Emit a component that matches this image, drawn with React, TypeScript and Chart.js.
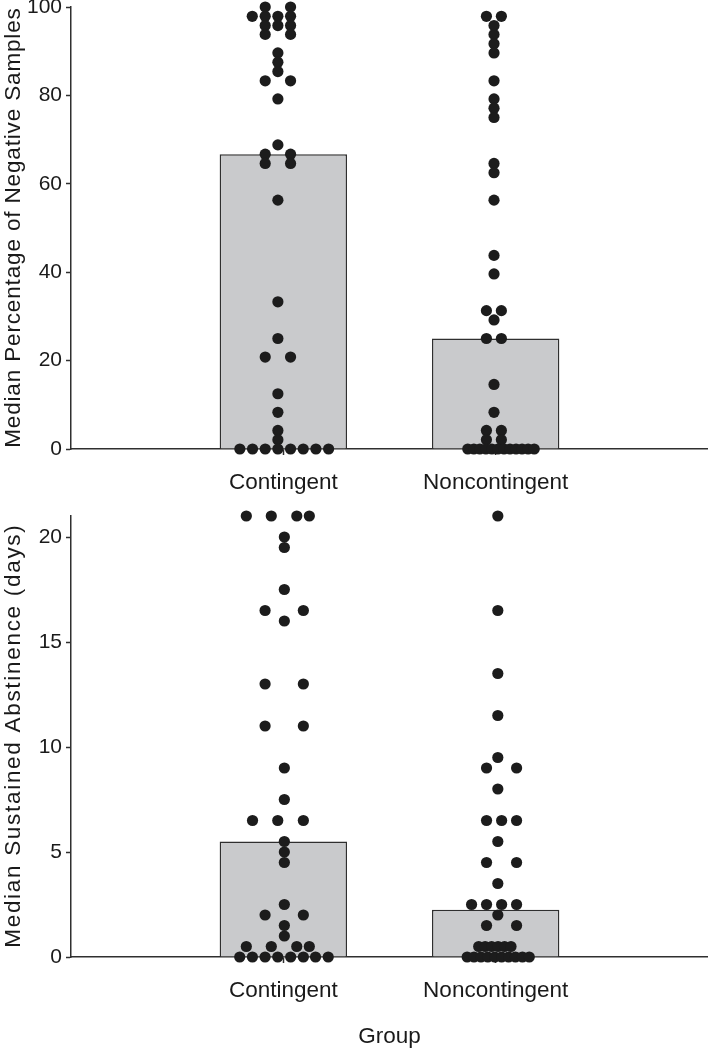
import React, { useEffect, useRef } from 'react';
import { Chart, registerables } from 'chart.js';

Chart.register(...registerables);

// ---------- data ----------
const groups = ['Contingent', 'Noncontingent'];
const groupPositions = [1, 2];
const xTickValues = [0, 1, 2, 3];
const xAxisTitle = 'Group';

// Panel A: median percentage of negative samples
const pctTitle = 'Median Percentage of Negative Samples';
const pctTicks = [0, 20, 40, 60, 80, 100];
const pctMedians = [66.7, 25];
const pctContingentValues = [
  100, 100, 97.9, 97.9, 97.9, 97.9, 95.8, 95.8, 95.8, 93.8, 93.8, 89.6, 87.5, 85.4,
  83.3, 83.3, 79.2, 68.8, 66.7, 66.7, 64.6, 64.6, 56.3, 33.3, 25, 20.8, 20.8, 12.5,
  8.3, 4.2, 2.1, 0, 0, 0, 0, 0, 0, 0, 0,
];
// horizontal swarm slot of each dot (in dot widths, relative to the group centre)
const pctContingentSlots = [
  -1.43, 0.57, -2.45, -1.43, -0.43, 0.57, -1.43, -0.43, 0.57, -1.43, 0.57, -0.43, -0.43, -0.43,
  -1.43, 0.57, -0.43, -0.43, -1.43, 0.57, -1.43, 0.57, -0.43, -0.43, -0.43, -1.43, 0.57, -0.43,
  -0.43, -0.43, -0.43, -3.43, -2.43, -1.43, -0.43, 0.57, 1.57, 2.57, 3.57,
];
const pctNoncontingentValues = [
  97.9, 97.9, 95.8, 93.8, 91.7, 89.6, 83.3, 79.2, 77.1, 75.0, 64.6, 62.5, 56.3, 43.8, 39.6,
  31.3, 31.3, 29.2, 25, 25, 14.6, 8.3, 4.2, 4.2, 2.1, 2.1,
  0, 0, 0, 0, 0, 0, 0, 0, 0, 0, 0, 0,
];
const pctNoncontingentSlots = [
  -0.73, 0.45, -0.13, -0.13, -0.13, -0.13, -0.13, -0.13, -0.13, -0.13, -0.13, -0.13, -0.13, -0.13, -0.13,
  -0.73, 0.45, -0.13, -0.73, 0.45, -0.13, -0.13, -0.73, 0.45, -0.73, 0.45,
  -2.2, -1.72, -1.25, -0.77, -0.3, 0.18, 0.66, 1.13, 1.61, 2.08, 2.56, 3.04,
];

// Panel B: median sustained abstinence (days)
const daysTitle = 'Median Sustained Abstinence (days)';
const daysTicks = [0, 5, 10, 15, 20];
const daysMax = 21;
const daysMedians = [5.5, 2.25];
const daysContingentValues = [
  21, 21, 21, 21, 20, 19.5, 17.5, 16.5, 16.5, 16, 13, 13, 11, 11, 9, 7.5, 6.5, 6.5, 6.5,
  5.5, 5, 4.5, 2.5, 2, 2, 1.5, 1, 0.5, 0.5, 0.5, 0.5, 0, 0, 0, 0, 0, 0, 0, 0,
];
const daysContingentSlots = [
  -2.92, -0.95, 1.06, 2.05, 0.08, 0.08, 0.08, -1.44, 1.58, 0.08, -1.44, 1.58, -1.44, 1.58, 0.08, 0.08, -2.43, -0.44, 1.58,
  0.08, 0.08, 0.08, 0.08, -1.44, 1.58, 0.08, 0.08, -2.92, -0.95, 1.06, 2.05, -3.44, -2.44, -1.44, -0.44, 0.58, 1.58, 2.54, 3.54,
];
const daysNoncontingentValues = [
  21, 16.5, 13.5, 11.5, 9.5, 9, 9, 8, 6.5, 6.5, 6.5, 5.5, 4.5, 4.5, 3.5, 2.5, 2.5, 2.5, 2.5,
  2, 1.5, 1.5, 0.5, 0.5, 0.5, 0.5, 0.5, 0.5, 0, 0, 0, 0, 0, 0, 0, 0, 0, 0,
];
const daysNoncontingentSlots = [
  0.17, 0.17, 0.17, 0.17, 0.17, -0.72, 1.65, 0.17, -0.72, 0.47, 1.65, 0.17, -0.72, 1.65, 0.17, -1.9, -0.72, 0.47, 1.65,
  0.17, -0.72, 1.65, -1.34, -0.83, -0.32, 0.19, 0.7, 1.21, -2.25, -1.71, -1.16, -0.62, -0.07, 0.47, 1.02, 1.56, 2.11, 2.65,
];

// ---------- styling ----------
const FONT = "'Liberation Sans', Arial, Helvetica, sans-serif";
const AXIS = '#2f2f2f';
const TEXT = '#1a1a1a';
const BAR_FILL = '#c9cacc';
const DOT = '#1c1c1c';
const SLOT = 0.0597; // x units per dot width

function swarm(pos: number, values: number[], slots: number[]) {
  return values.map((v, i) => ({ x: pos + slots[i] * SLOT, y: v }));
}

// vertical axis title drawn with a little letter spacing (as in the original figure)
const yTitlePlugin = {
  id: 'yTitleSpaced',
  afterDraw(chart: any, _args: any, opts: any) {
    const { ctx, chartArea } = chart;
    ctx.save();
    ctx.translate(opts.x, (chartArea.top + chartArea.bottom) / 2);
    ctx.rotate(-Math.PI / 2);
    ctx.font = `${opts.size}px ${FONT}`;
    try {
      (ctx as any).letterSpacing = `${opts.spacing}px`;
    } catch (e) {
      /* ignore */
    }
    ctx.fillStyle = TEXT;
    ctx.textAlign = 'center';
    ctx.textBaseline = 'middle';
    ctx.fillText(opts.text, opts.spacing / 2, 0);
    ctx.restore();
  },
};

type PanelSpec = {
  yTitle: string;
  yTitleSpacing: number;
  yTicks: number[];
  yMax: number;
  medians: number[];
  contValues: number[];
  contSlots: number[];
  nonValues: number[];
  nonSlots: number[];
  showXTitle: boolean;
  padTop: number;
  xAxisHeight: number;
};

function makeConfig(p: PanelSpec): any {
  return {
    type: 'bar',
    plugins: [yTitlePlugin],
    data: {
      datasets: [
        {
          type: 'scatter',
          data: [
            ...swarm(groupPositions[0], p.contValues, p.contSlots),
            ...swarm(groupPositions[1], p.nonValues, p.nonSlots),
          ],
          backgroundColor: DOT,
          borderWidth: 0,
          pointRadius: 5.6,
          pointHoverRadius: 5.6,
          clip: false,
          order: 1,
        },
        {
          type: 'bar',
          data: groupPositions.map((x, i) => ({ x, y: p.medians[i] })),
          backgroundColor: BAR_FILL,
          borderColor: AXIS,
          borderWidth: 1.5,
          borderSkipped: 'bottom',
          categoryPercentage: 1,
          barPercentage: 0.6,
          order: 2,
        },
      ],
    },
    options: {
      responsive: false,
      animation: false,
      events: [],
      layout: { autoPadding: false, padding: { top: p.padTop, left: 0, right: 0, bottom: 0 } },
      plugins: {
        legend: { display: false },
        tooltip: { enabled: false },
        yTitleSpaced: { text: p.yTitle, size: 22.5, spacing: p.yTitleSpacing, x: 13.5 },
      },
      scales: {
        x: {
          type: 'linear',
          min: 0,
          max: 3,
          offset: false,
          afterBuildTicks: (s: any) => {
            s.ticks = xTickValues.map((v) => ({ value: v }));
          },
          afterFit: (s: any) => {
            s.height = p.xAxisHeight;
            s.paddingLeft = 0;
            s.paddingRight = 0;
          },
          ticks: {
            autoSkip: false,
            maxRotation: 0,
            padding: 14,
            color: TEXT,
            font: { family: FONT, size: 22.5 },
            callback: (v: number) => {
              const i = groupPositions.indexOf(v);
              return i >= 0 ? groups[i] : '';
            },
          },
          grid: {
            offset: false,
            drawOnChartArea: false,
            tickLength: 6,
            tickWidth: 1.5,
            tickColor: (ctx: any) =>
              ctx.tick && groupPositions.includes(ctx.tick.value) ? AXIS : 'rgba(0,0,0,0)',
          },
          border: { color: AXIS, width: 1.5 },
          title: {
            display: p.showXTitle,
            text: xAxisTitle,
            color: TEXT,
            font: { family: FONT, size: 22.5 },
            padding: { top: 0, bottom: 0 },
          },
        },
        y: {
          type: 'linear',
          min: 0,
          max: p.yMax,
          afterBuildTicks: (s: any) => {
            s.ticks = p.yTicks.map((v) => ({ value: v }));
          },
          afterFit: (s: any) => {
            s.width = 71;
          },
          ticks: {
            padding: 4,
            color: TEXT,
            font: { family: FONT, size: 21 },
          },
          grid: {
            drawOnChartArea: false,
            tickLength: 5,
            tickWidth: 1.5,
            tickColor: AXIS,
          },
          border: { color: AXIS, width: 1.5 },
          title: { display: false },
        },
      },
    },
  };
}

function Panel({ spec, top, height }: { spec: PanelSpec; top: number; height: number }) {
  const ref = useRef<HTMLCanvasElement | null>(null);
  useEffect(() => {
    if (!ref.current) return;
    const chart = new Chart(ref.current, makeConfig(spec));
    return () => chart.destroy();
  }, []);
  return (
    <canvas
      ref={ref}
      width={708}
      height={height}
      style={{ position: 'absolute', left: 0, top, width: 708, height, display: 'block' }}
    />
  );
}

const panelA: PanelSpec = {
  yTitle: pctTitle,
  yTitleSpacing: 0.85,
  yTicks: pctTicks,
  yMax: 100,
  medians: pctMedians,
  contValues: pctContingentValues,
  contSlots: pctContingentSlots,
  nonValues: pctNoncontingentValues,
  nonSlots: pctNoncontingentSlots,
  showXTitle: false,
  padTop: 17,
  xAxisHeight: 51,
};

const panelB: PanelSpec = {
  yTitle: daysTitle,
  yTitleSpacing: 1.7,
  yTicks: daysTicks,
  yMax: daysMax,
  medians: daysMedians,
  contValues: daysContingentValues,
  contSlots: daysContingentSlots,
  nonValues: daysNoncontingentValues,
  nonSlots: daysNoncontingentSlots,
  showXTitle: true,
  padTop: 20,
  xAxisHeight: 93,
};

export default function App() {
  return (
    <div style={{ position: 'absolute', left: 0, top: 0, width: 708, height: 1050, background: '#fff', overflow: 'hidden' }}>
      <Panel spec={panelA} top={-10} height={510} />
      <Panel spec={panelB} top={496} height={554} />
    </div>
  );
}
